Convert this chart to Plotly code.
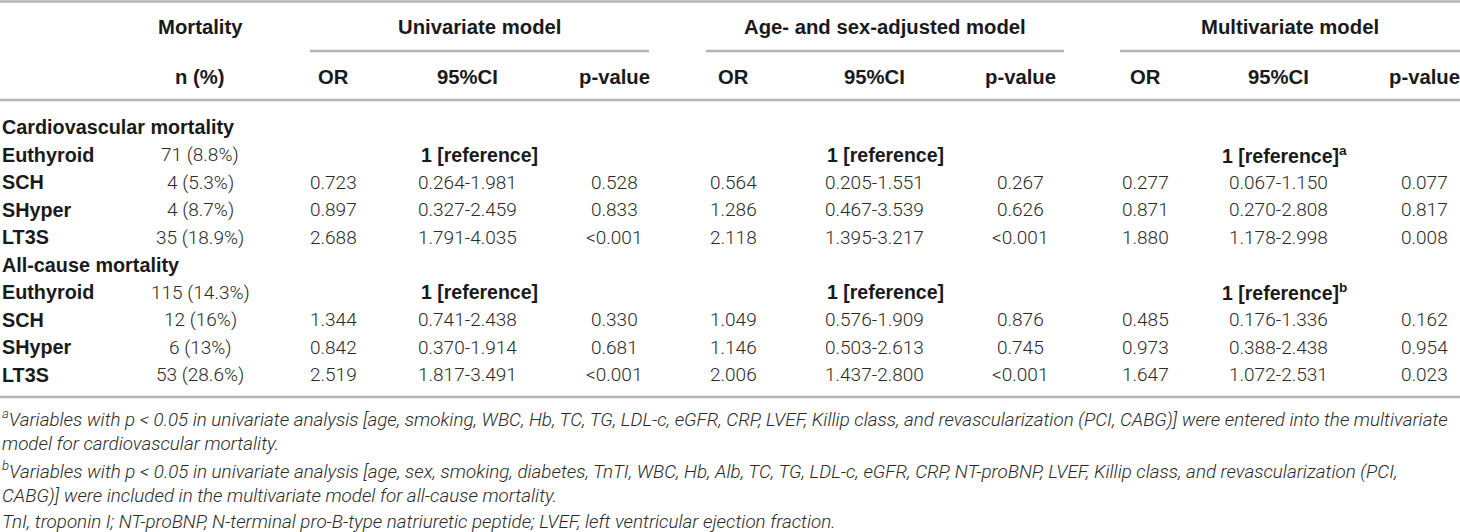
import plotly.graph_objects as go

# table content
sections = ["Cardiovascular mortality", "All-cause mortality"]
groups = ["Euthyroid", "SCH", "SHyper", "LT3S"]

cv_n = ["71 (8.8%)", "4 (5.3%)", "4 (8.7%)", "35 (18.9%)"]
cv_uni_or = ["0.723", "0.897", "2.688"]
cv_uni_ci = ["0.264-1.981", "0.327-2.459", "1.791-4.035"]
cv_uni_p = ["0.528", "0.833", "&lt;0.001"]
cv_age_or = ["0.564", "1.286", "2.118"]
cv_age_ci = ["0.205-1.551", "0.467-3.539", "1.395-3.217"]
cv_age_p = ["0.267", "0.626", "&lt;0.001"]
cv_mv_or = ["0.277", "0.871", "1.880"]
cv_mv_ci = ["0.067-1.150", "0.270-2.808", "1.178-2.998"]
cv_mv_p = ["0.077", "0.817", "0.008"]

ac_n = ["115 (14.3%)", "12 (16%)", "6 (13%)", "53 (28.6%)"]
ac_uni_or = ["1.344", "0.842", "2.519"]
ac_uni_ci = ["0.741-2.438", "0.370-1.914", "1.817-3.491"]
ac_uni_p = ["0.330", "0.681", "&lt;0.001"]
ac_age_or = ["1.049", "1.146", "2.006"]
ac_age_ci = ["0.576-1.909", "0.503-2.613", "1.437-2.800"]
ac_age_p = ["0.876", "0.745", "&lt;0.001"]
ac_mv_or = ["0.485", "0.973", "1.647"]
ac_mv_ci = ["0.176-1.336", "0.388-2.438", "1.072-2.531"]
ac_mv_p = ["0.162", "0.954", "0.023"]

model_names = ["Univariate model", "Age- and sex-adjusted model", "Multivariate model"]
sub_heads = ["OR", "95%CI", "p-value"]
ref_text = ["1 [reference]", "1 [reference]", "1 [reference]"]
ref_marks = ["a", "b"]

footnotes = [
    "<sup>a</sup>Variables with p &lt; 0.05 in univariate analysis [age, smoking, WBC, Hb, TC, TG, LDL-c, eGFR, CRP, LVEF, Killip class, and revascularization (PCI, CABG)] were entered into the multivariate",
    "model for cardiovascular mortality.",
    "<sup>b</sup>Variables with p &lt; 0.05 in univariate analysis [age, sex, smoking, diabetes, TnTI, WBC, Hb, Alb, TC, TG, LDL-c, eGFR, CRP, NT-proBNP, LVEF, Killip class, and revascularization (PCI,",
    "CABG)] were included in the multivariate model for all-cause mortality.",
    "TnI, troponin I; NT-proBNP, N-terminal pro-B-type natriuretic peptide; LVEF, left ventricular ejection fraction.",
]

# layout in pixels
W, H = 1460, 532
x_n = 200
group_x = [479, 885, 1290]
group_span = [(310, 649), (706, 1064), (1120, 1460)]
col_x = [[333, 467, 614], [733, 874, 1020], [1145, 1278, 1424]]
row_y0 = 127
row_h = 27.5

SANS = "Liberation Sans, Arial, sans-serif"
HEAD = dict(family=SANS, size=20.3, color="#1a1a1a", weight="bold")
BOLD = dict(family=SANS, size=19.8, color="#1a1a1a", weight="bold")
REF = dict(family=SANS, size=19.5, color="#1a1a1a", weight="bold")
BODY = dict(family="Roboto, Liberation Sans, sans-serif", size=19, color="#2a2a2a", weight=300)
NOTE = dict(family="Roboto, Liberation Sans, sans-serif", size=18.8, color="#2a2a2a", weight=300, style="italic")
RULE = "#b5b5b5"

fig = go.Figure()
ann = []


def cell(x, y, text, font, anchor="center"):
    ann.append(dict(x=x, y=y, text=text, font=font, xanchor=anchor, yanchor="middle",
                    showarrow=False, xref="x", yref="y"))


# header
cell(x_n, 27, "Mortality", HEAD)
cell(x_n, 77, "n (%)", HEAD)
for g in range(3):
    cell(group_x[g], 27, model_names[g], HEAD)
    for c in range(3):
        cell(col_x[g][c], 77, sub_heads[c], HEAD)

# body
blocks = [
    (cv_n, [[cv_uni_or, cv_uni_ci, cv_uni_p], [cv_age_or, cv_age_ci, cv_age_p], [cv_mv_or, cv_mv_ci, cv_mv_p]]),
    (ac_n, [[ac_uni_or, ac_uni_ci, ac_uni_p], [ac_age_or, ac_age_ci, ac_age_p], [ac_mv_or, ac_mv_ci, ac_mv_p]]),
]
r = 0
for s, (n_vals, models) in enumerate(blocks):
    y = row_y0 + r * row_h
    cell(0, y, sections[s], BOLD, "left")
    r += 1
    for i, grp in enumerate(groups):
        y = row_y0 + r * row_h
        cell(0, y, grp, BOLD, "left")
        cell(x_n, y, n_vals[i], BODY)
        if i == 0:
            for g in range(3):
                txt = ref_text[g]
                if g == 2:
                    txt += "<sup>" + ref_marks[s] + "</sup>"
                    cell(col_x[g][1] + 6, y, txt, REF)
                else:
                    cell(group_x[g], y, txt, REF)
        else:
            for g in range(3):
                for c in range(3):
                    cell(col_x[g][c], y, models[g][c][i - 1], BODY)
        r += 1

# footnotes
for k, line in enumerate(footnotes):
    cell(0, 418 + k * 26, line, NOTE, "left")

# rules
shapes = [
    dict(type="line", x0=0, x1=W, y0=1.5, y1=1.5),
    dict(type="line", x0=0, x1=W, y0=100, y1=100),
    dict(type="line", x0=0, x1=W, y0=397, y1=397),
]
for a, b in group_span:
    shapes.append(dict(type="line", x0=a, x1=b, y0=51, y1=51))
for sh in shapes:
    sh.update(xref="x", yref="y", line=dict(color=RULE, width=2.5))

fig.update_layout(
    width=W, height=H,
    margin=dict(l=0, r=0, t=0, b=0),
    paper_bgcolor="white", plot_bgcolor="white",
    xaxis=dict(range=[0, W], visible=False, fixedrange=True),
    yaxis=dict(range=[H, 0], visible=False, fixedrange=True),
    annotations=ann, shapes=shapes, showlegend=False,
)

fig.write_html("out.html", config={"displayModeBar": False},
               post_script="document.body.style.margin='0';document.body.style.overflow='hidden';")
